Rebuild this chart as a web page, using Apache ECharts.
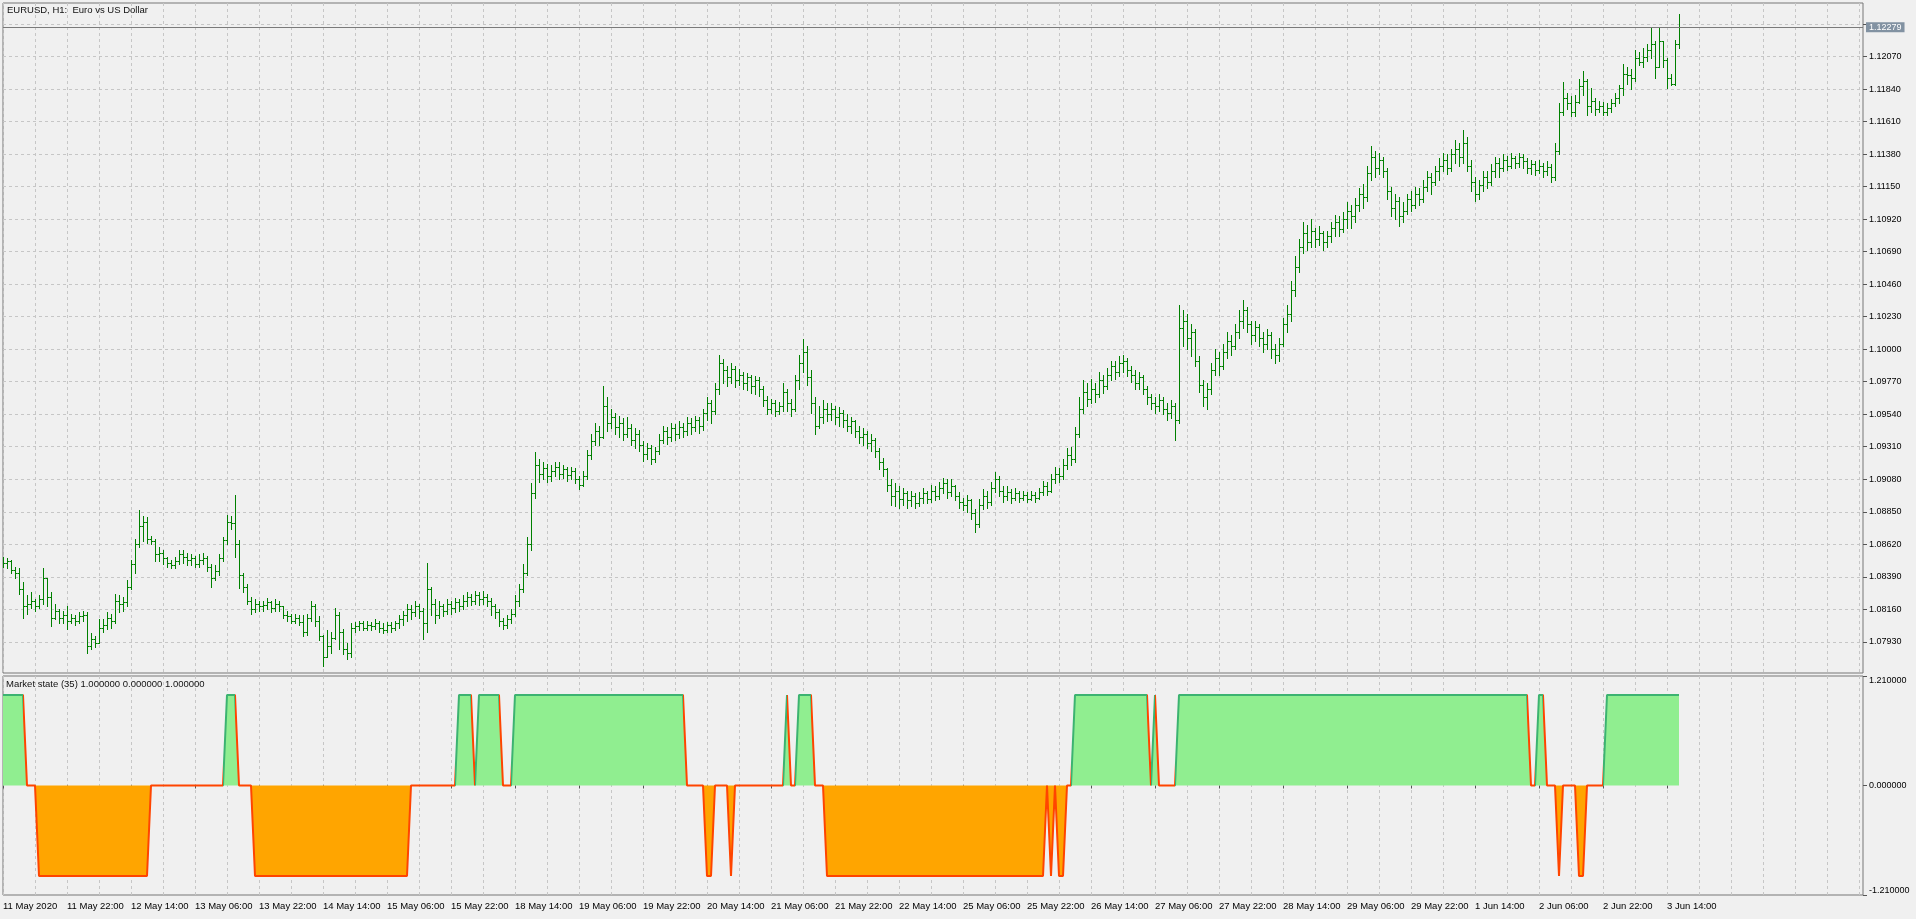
<!DOCTYPE html>
<html><head><meta charset="utf-8">
<script src="https://cdn.jsdelivr.net/npm/echarts@6/dist/echarts.min.js"></script>
<style>html,body{margin:0;padding:0;background:#F0F0F0;}#chart{width:1916px;height:919px;}</style>
</head><body><div id="chart"></div>
<script>
// ---------- DATA ----------
const firstOpen = 1.0851;
const closes = [
1.0849,1.0850,1.0844,1.0842,1.0830,1.0818,1.0820,1.0822,1.0818,1.0823,
1.0838,1.0825,1.0810,1.0815,1.0810,1.0812,1.0808,1.0810,1.0808,1.0811,
1.0812,1.0790,1.0795,1.0792,1.0803,1.0805,1.0810,1.0808,1.0822,1.0820,
1.0821,1.0832,1.0848,1.0862,1.0875,1.0878,1.0866,1.0864,1.0855,1.0856,
1.0852,1.0849,1.0847,1.0850,1.0855,1.0853,1.0851,1.0852,1.0848,1.0851,
1.0852,1.0846,1.0838,1.0843,1.0852,1.0865,1.0878,1.0877,1.0862,1.0840,
1.0832,1.0822,1.0816,1.0820,1.0818,1.0819,1.0821,1.0817,1.0820,1.0818,
1.0812,1.0811,1.0808,1.0810,1.0807,1.0800,1.0810,1.0818,1.0808,1.0797,
1.0782,1.0790,1.0796,1.0812,1.0800,1.0788,1.0785,1.0803,1.0804,1.0806,
1.0803,1.0805,1.0804,1.0806,1.0803,1.0801,1.0805,1.0803,1.0806,1.0809,
1.0812,1.0816,1.0814,1.0818,1.0815,1.0806,1.0830,1.0820,1.0812,1.0818,
1.0815,1.0820,1.0817,1.0821,1.0818,1.0822,1.0825,1.0822,1.0826,1.0823,
1.0825,1.0822,1.0818,1.0814,1.0808,1.0805,1.0809,1.0813,1.0822,1.0830,
1.0842,1.0862,1.0898,1.0918,1.0912,1.0916,1.0910,1.0914,1.0917,1.0912,
1.0915,1.0911,1.0914,1.0908,1.0904,1.0910,1.0925,1.0935,1.0942,1.0938,
1.0960,1.0948,1.0952,1.0945,1.0948,1.0940,1.0944,1.0936,1.0940,1.0932,
1.0926,1.0930,1.0922,1.0928,1.0936,1.0942,1.0938,1.0944,1.0940,1.0945,
1.0942,1.0948,1.0945,1.0950,1.0946,1.0955,1.0962,1.0956,1.0972,1.0990,
1.0985,1.0980,1.0986,1.0978,1.0982,1.0976,1.0980,1.0974,1.0978,1.0972,
1.0964,1.0958,1.0962,1.0956,1.0960,1.0970,1.0962,1.0958,1.0978,1.0990,
1.0998,1.0980,1.0962,1.0946,1.0952,1.0958,1.0954,1.0958,1.0952,1.0955,
1.0950,1.0946,1.0949,1.0942,1.0938,1.0940,1.0934,1.0936,1.0928,1.0920,
1.0915,1.0904,1.0896,1.0900,1.0894,1.0898,1.0893,1.0896,1.0891,1.0895,
1.0898,1.0894,1.0900,1.0896,1.0902,1.0905,1.0899,1.0903,1.0896,1.0892,
1.0890,1.0893,1.0884,1.0876,1.0890,1.0896,1.0892,1.0902,1.0908,1.0900,
1.0896,1.0899,1.0895,1.0898,1.0895,1.0897,1.0894,1.0897,1.0895,1.0899,
1.0903,1.0900,1.0908,1.0912,1.0910,1.0918,1.0925,1.0922,1.0940,1.0958,
1.0970,1.0965,1.0972,1.0968,1.0978,1.0974,1.0982,1.0988,1.0984,1.0990,
1.0992,1.0985,1.0982,1.0976,1.0980,1.0972,1.0966,1.0962,1.0960,1.0964,
1.0958,1.0955,1.0960,1.0950,1.1015,1.1020,1.1008,1.1012,1.0992,1.0975,
1.0966,1.0972,1.0985,1.0994,1.0988,1.0998,1.1006,1.1002,1.1012,1.1020,
1.1028,1.1018,1.1010,1.1016,1.1008,1.1004,1.1010,1.1000,1.0996,1.1004,
1.1018,1.1025,1.1042,1.1058,1.1072,1.1082,1.1076,1.1084,1.1078,1.1082,
1.1076,1.1080,1.1086,1.1090,1.1085,1.1092,1.1098,1.1094,1.1102,1.1110,
1.1108,1.1125,1.1136,1.1128,1.1134,1.1126,1.1112,1.1100,1.1105,1.1094,
1.1098,1.1106,1.1102,1.1110,1.1106,1.1115,1.1122,1.1118,1.1126,1.1130,
1.1134,1.1128,1.1138,1.1142,1.1136,1.1146,1.1130,1.1118,1.1110,1.1116,
1.1122,1.1118,1.1126,1.1132,1.1128,1.1134,1.1130,1.1135,1.1132,1.1136,
1.1133,1.1128,1.1131,1.1127,1.1130,1.1126,1.1129,1.1122,1.1140,1.1168,
1.1178,1.1174,1.1168,1.1175,1.1186,1.1190,1.1172,1.1176,1.1170,1.1172,
1.1168,1.1171,1.1174,1.1178,1.1185,1.1195,1.1194,1.1192,1.1206,1.1203,
1.1207,1.1212,1.1216,1.1200,1.1218,1.1205,1.1192,1.1188,1.1216,1.12279];
const highs = [
1.0853,1.0852,1.0851,1.0846,1.0845,1.0835,1.0826,1.0828,1.0823,1.0826,
1.0845,1.0838,1.0828,1.0820,1.0816,1.0815,1.0818,1.0813,1.0812,1.0814,
1.0815,1.0814,1.0799,1.0797,1.0809,1.0809,1.0814,1.0813,1.0827,1.0826,
1.0825,1.0837,1.0851,1.0866,1.0886,1.0882,1.0881,1.0868,1.0866,1.0860,
1.0858,1.0853,1.0851,1.0853,1.0858,1.0858,1.0856,1.0855,1.0854,1.0855,
1.0856,1.0854,1.0848,1.0847,1.0855,1.0867,1.0883,1.0882,1.0897,1.0865,
1.0842,1.0834,1.0825,1.0823,1.0822,1.0822,1.0824,1.0822,1.0823,1.0822,
1.0818,1.0815,1.0813,1.0813,1.0812,1.0812,1.0813,1.0822,1.0820,1.0811,
1.0798,1.0801,1.0800,1.0817,1.0814,1.0802,1.0792,1.0806,1.0807,1.0808,
1.0808,1.0808,1.0807,1.0809,1.0808,1.0806,1.0807,1.0807,1.0808,1.0812,
1.0815,1.0820,1.0819,1.0822,1.0820,1.0817,1.0849,1.0832,1.0823,1.0822,
1.0820,1.0823,1.0822,1.0824,1.0823,1.0826,1.0828,1.0827,1.0829,1.0828,
1.0829,1.0827,1.0824,1.0820,1.0816,1.0810,1.0812,1.0816,1.0826,1.0834,
1.0848,1.0867,1.0905,1.0927,1.0922,1.0920,1.0919,1.0918,1.0920,1.0920,
1.0918,1.0917,1.0917,1.0916,1.0910,1.0914,1.0929,1.0940,1.0948,1.0946,
1.0974,1.0966,1.0958,1.0955,1.0953,1.0951,1.0952,1.0947,1.0944,1.0943,
1.0935,1.0934,1.0932,1.0931,1.0940,1.0946,1.0945,1.0948,1.0947,1.0949,
1.0948,1.0952,1.0951,1.0953,1.0952,1.0958,1.0966,1.0964,1.0976,1.0996,
1.0993,1.0988,1.0990,1.0988,1.0986,1.0984,1.0983,1.0982,1.0981,1.0980,
1.0974,1.0967,1.0965,1.0964,1.0963,1.0976,1.0972,1.0965,1.0982,1.0996,
1.1007,1.1002,1.0985,1.0966,1.0960,1.0964,1.0962,1.0962,1.0960,1.0959,
1.0957,1.0954,1.0952,1.0950,1.0946,1.0944,1.0942,1.0940,1.0937,1.0930,
1.0923,1.0916,1.0908,1.0905,1.0903,1.0902,1.0900,1.0900,1.0898,1.0899,
1.0902,1.0900,1.0904,1.0903,1.0906,1.0909,1.0908,1.0908,1.0904,1.0899,
1.0895,1.0897,1.0894,1.0887,1.0894,1.0901,1.0900,1.0906,1.0913,1.0910,
1.0903,1.0903,1.0901,1.0902,1.0900,1.0900,1.0899,1.0900,1.0899,1.0902,
1.0907,1.0906,1.0912,1.0917,1.0916,1.0922,1.0930,1.0931,1.0945,1.0966,
1.0978,1.0976,1.0979,1.0976,1.0984,1.0982,1.0987,1.0992,1.0992,1.0995,
1.0996,1.0994,1.0988,1.0985,1.0984,1.0982,1.0974,1.0968,1.0966,1.0968,
1.0966,1.0962,1.0964,1.0962,1.1031,1.1028,1.1025,1.1018,1.1014,1.0995,
1.0978,1.0976,1.0990,1.1000,1.0998,1.1004,1.1012,1.1010,1.1018,1.1028,
1.1035,1.1030,1.1020,1.1020,1.1018,1.1012,1.1014,1.1012,1.1004,1.1008,
1.1022,1.1031,1.1048,1.1066,1.1078,1.1090,1.1088,1.1092,1.1086,1.1087,
1.1084,1.1084,1.1090,1.1095,1.1094,1.1097,1.1104,1.1102,1.1107,1.1114,
1.1117,1.1130,1.1144,1.1140,1.1139,1.1136,1.1128,1.1115,1.1110,1.1108,
1.1104,1.1110,1.1112,1.1115,1.1114,1.1120,1.1126,1.1125,1.1130,1.1135,
1.1139,1.1138,1.1142,1.1148,1.1146,1.1155,1.1150,1.1134,1.1122,1.1120,
1.1126,1.1126,1.1131,1.1136,1.1135,1.1138,1.1137,1.1139,1.1137,1.1139,
1.1138,1.1135,1.1134,1.1133,1.1134,1.1132,1.1133,1.1131,1.1146,1.1174,
1.1189,1.1181,1.1179,1.1180,1.1191,1.1197,1.1191,1.1185,1.1178,1.1176,
1.1175,1.1174,1.1177,1.1181,1.1187,1.1202,1.1200,1.1198,1.1212,1.1210,
1.1213,1.1216,1.1228,1.1218,1.1227,1.1218,1.1206,1.1195,1.1219,1.1237];
const lows = [
1.0846,1.0845,1.0842,1.0838,1.0827,1.0810,1.0813,1.0817,1.0815,1.0817,
1.0820,1.0818,1.0804,1.0809,1.0806,1.0806,1.0802,1.0806,1.0805,1.0806,
1.0808,1.0785,1.0788,1.0789,1.0792,1.0800,1.0802,1.0803,1.0806,1.0814,
1.0815,1.0818,1.0830,1.0842,1.0860,1.0864,1.0863,1.0862,1.0850,1.0850,
1.0848,1.0846,1.0845,1.0845,1.0848,1.0849,1.0847,1.0847,1.0846,1.0846,
1.0848,1.0843,1.0832,1.0837,1.0840,1.0850,1.0862,1.0873,1.0853,1.0831,
1.0828,1.0820,1.0813,1.0814,1.0815,1.0815,1.0816,1.0814,1.0815,1.0815,
1.0810,1.0808,1.0806,1.0806,1.0805,1.0797,1.0798,1.0808,1.0804,1.0794,
1.0776,1.0783,1.0785,1.0795,1.0788,1.0784,1.0781,1.0782,1.0800,1.0801,
1.0801,1.0801,1.0801,1.0802,1.0800,1.0799,1.0800,1.0800,1.0801,1.0803,
1.0805,1.0808,1.0809,1.0811,1.0810,1.0795,1.0800,1.0812,1.0806,1.0810,
1.0811,1.0813,1.0813,1.0814,1.0815,1.0816,1.0818,1.0819,1.0820,1.0819,
1.0820,1.0818,1.0812,1.0810,1.0804,1.0802,1.0803,1.0806,1.0811,1.0818,
1.0828,1.0840,1.0858,1.0895,1.0906,1.0908,1.0906,1.0907,1.0910,1.0908,
1.0909,1.0907,1.0908,1.0905,1.0901,1.0903,1.0908,1.0922,1.0932,1.0932,
1.0937,1.0942,1.0944,1.0940,1.0938,1.0936,1.0938,1.0932,1.0930,1.0928,
1.0921,1.0922,1.0919,1.0920,1.0926,1.0934,1.0933,1.0935,1.0936,1.0937,
1.0938,1.0939,1.0940,1.0942,1.0941,1.0943,1.0950,1.0948,1.0954,1.0968,
1.0976,1.0974,1.0976,1.0973,1.0975,1.0972,1.0971,1.0969,1.0968,1.0967,
1.0960,1.0954,1.0955,1.0953,1.0954,1.0956,1.0956,1.0953,1.0956,1.0972,
1.0984,1.0975,1.0955,1.0940,1.0944,1.0948,1.0949,1.0950,1.0947,1.0946,
1.0945,1.0942,1.0941,1.0938,1.0934,1.0932,1.0930,1.0928,1.0924,1.0915,
1.0910,1.0900,1.0890,1.0889,1.0888,1.0890,1.0888,1.0889,1.0888,1.0889,
1.0891,1.0891,1.0892,1.0893,1.0894,1.0898,1.0895,1.0896,1.0893,1.0888,
1.0886,1.0885,1.0880,1.0871,1.0874,1.0887,1.0888,1.0890,1.0899,1.0896,
1.0892,1.0893,1.0891,1.0893,1.0892,1.0893,1.0892,1.0893,1.0892,1.0894,
1.0897,1.0897,1.0899,1.0905,1.0906,1.0908,1.0915,1.0918,1.0920,1.0938,
1.0955,1.0960,1.0962,1.0963,1.0966,1.0969,1.0972,1.0978,1.0979,1.0981,
1.0984,1.0981,1.0977,1.0972,1.0972,1.0968,1.0961,1.0958,1.0955,1.0956,
1.0954,1.0950,1.0951,1.0936,1.0948,1.1002,1.1000,1.0995,1.0988,1.0970,
1.0960,1.0958,1.0968,1.0982,1.0982,1.0986,1.0994,1.0996,1.1000,1.1008,
1.1015,1.1012,1.1004,1.1006,1.1002,1.0998,1.1000,1.0994,1.0990,1.0992,
1.1002,1.1012,1.1020,1.1038,1.1055,1.1068,1.1070,1.1072,1.1072,1.1074,
1.1070,1.1072,1.1076,1.1080,1.1080,1.1083,1.1086,1.1086,1.1090,1.1098,
1.1100,1.1105,1.1120,1.1122,1.1124,1.1122,1.1106,1.1094,1.1092,1.1087,
1.1090,1.1096,1.1098,1.1100,1.1102,1.1104,1.1112,1.1110,1.1116,1.1120,
1.1126,1.1124,1.1126,1.1132,1.1130,1.1132,1.1126,1.1112,1.1105,1.1106,
1.1112,1.1114,1.1116,1.1122,1.1122,1.1126,1.1127,1.1128,1.1128,1.1129,
1.1128,1.1125,1.1124,1.1123,1.1125,1.1122,1.1123,1.1118,1.1120,1.1138,
1.1166,1.1170,1.1165,1.1165,1.1174,1.1180,1.1166,1.1168,1.1166,1.1168,
1.1166,1.1166,1.1168,1.1172,1.1174,1.1180,1.1188,1.1184,1.1190,1.1201,
1.1200,1.1204,1.1206,1.1192,1.1206,1.1200,1.1185,1.1187,1.1187,1.1213];
const marketState = [
1,1,1,1,1,1,0,0,0,-1,-1,-1,-1,-1,-1,-1,-1,-1,-1,-1,
-1,-1,-1,-1,-1,-1,-1,-1,-1,-1,-1,-1,-1,-1,-1,-1,-1,0,0,0,
0,0,0,0,0,0,0,0,0,0,0,0,0,0,0,0,1,1,1,0,
0,0,0,-1,-1,-1,-1,-1,-1,-1,-1,-1,-1,-1,-1,-1,-1,-1,-1,-1,
-1,-1,-1,-1,-1,-1,-1,-1,-1,-1,-1,-1,-1,-1,-1,-1,-1,-1,-1,-1,
-1,-1,0,0,0,0,0,0,0,0,0,0,0,0,1,1,1,1,0,1,
1,1,1,1,1,0,0,0,1,1,1,1,1,1,1,1,1,1,1,1,
1,1,1,1,1,1,1,1,1,1,1,1,1,1,1,1,1,1,1,1,
1,1,1,1,1,1,1,1,1,1,1,0,0,0,0,0,-1,-1,0,0,
0,0,-1,0,0,0,0,0,0,0,0,0,0,0,0,0,1,0,0,1,
1,1,1,0,0,0,-1,-1,-1,-1,-1,-1,-1,-1,-1,-1,-1,-1,-1,-1,
-1,-1,-1,-1,-1,-1,-1,-1,-1,-1,-1,-1,-1,-1,-1,-1,-1,-1,-1,-1,
-1,-1,-1,-1,-1,-1,-1,-1,-1,-1,-1,-1,-1,-1,-1,-1,-1,-1,-1,-1,
-1,0,-1,0,-1,-1,0,0,1,1,1,1,1,1,1,1,1,1,1,1,
1,1,1,1,1,1,1,0,1,0,0,0,0,0,1,1,1,1,1,1,
1,1,1,1,1,1,1,1,1,1,1,1,1,1,1,1,1,1,1,1,
1,1,1,1,1,1,1,1,1,1,1,1,1,1,1,1,1,1,1,1,
1,1,1,1,1,1,1,1,1,1,1,1,1,1,1,1,1,1,1,1,
1,1,1,1,1,1,1,1,1,1,1,1,1,1,1,1,1,1,1,1,
1,1,0,0,1,1,0,0,0,-1,0,0,0,0,-1,-1,0,0,0,0,
0,1,1,1,1,1,1,1,1,1,1,1,1,1,1,1,1,1,1,1];
const priceLabels = [1.07930,1.08160,1.08390,1.08620,1.08850,1.09080,1.09310,1.09540,1.09770,1.10000,
  1.10230,1.10460,1.10690,1.10920,1.11150,1.11380,1.11610,1.11840,1.12070];
const priceGrid = priceLabels.concat([1.12300]);
const currentPrice = 1.12279;
const timeLabels = ['11 May 2020','11 May 22:00','12 May 14:00','13 May 06:00','13 May 22:00','14 May 14:00',
  '15 May 06:00','15 May 22:00','18 May 14:00','19 May 06:00','19 May 22:00','20 May 14:00','21 May 06:00',
  '21 May 22:00','22 May 14:00','25 May 06:00','25 May 22:00','26 May 14:00','27 May 06:00','27 May 22:00',
  '28 May 14:00','29 May 06:00','29 May 22:00','1 Jun 14:00','2 Jun 06:00','2 Jun 22:00','3 Jun 14:00'];

// ---------- CHART ----------
const FONT = "'Liberation Sans', Arial, sans-serif";
const BAR_COLOR = '#008000';
const GRID_LINE = {color: '#C6C6C6', type: [3, 3], width: 1};
const nSlots = 466;                 // bar slots incl. empty right margin
const LABEL_STEP = 16, GRID_STEP = 8;
const nBars = closes.length;
const categories = [];
for (let i = 0; i < nSlots; i++) categories.push(i);

const ohlc = closes.map((c, i) => [i, i ? closes[i - 1] : firstOpen, c, lows[i], highs[i]]);
const statePos = marketState.map(v => v > 0 ? v : 0);
const stateNeg = marketState.map(v => v < 0 ? v : 0);

const UP = '#3CB371', DN = '#FF4500';
const pieces = [];
let runStart = 0, runCol = null;
for (let i = 0; i < marketState.length - 1; i++) {
  const a = marketState[i], b = marketState[i + 1];
  const col = (b > 0 && b >= a) ? UP : DN;
  if (col !== runCol) {
    if (runCol !== null) pieces.push({gte: runStart, lt: i, color: runCol});
    runStart = i; runCol = col;
  }
}
pieces.push({gte: runStart, lte: nSlots, color: runCol});

function renderBar(params, api) {
  const i = api.value(0), o = api.value(1), c = api.value(2), lo = api.value(3), hi = api.value(4);
  const top = api.coord([i, Math.max(hi, o, c)]);
  const bot = api.coord([i, Math.min(lo, o, c)]);
  const po = api.coord([i, o]), pc = api.coord([i, c]);
  const x = Math.round(top[0]) + 0.5;
  const st = {stroke: BAR_COLOR, lineWidth: 1};
  const yo = Math.round(po[1]) + 0.5, yc = Math.round(pc[1]) + 0.5;
  return {type: 'group', children: [
    {type: 'line', shape: {x1: x, y1: Math.round(top[1]), x2: x, y2: Math.round(bot[1]) + 1}, style: st},
    {type: 'line', shape: {x1: x - 2, y1: yo, x2: x, y2: yo}, style: st},
    {type: 'line', shape: {x1: x, y1: yc, x2: x + 2, y2: yc}, style: st}
  ]};
}

const labelStyle = {color: '#000', fontSize: 9.5, fontFamily: FONT};
const chart = echarts.init(document.getElementById('chart'), null, {renderer: 'canvas'});
chart.setOption({
  animation: false,
  backgroundColor: '#F0F0F0',
  textStyle: {fontFamily: FONT},
  title: [
    {text: 'EURUSD, H1:  Euro vs US Dollar', left: 7, top: 5, padding: 0,
      textStyle: {fontSize: 9.5, fontWeight: 'normal', color: '#111', fontFamily: FONT}},
    {text: 'Market state (35) 1.000000 0.000000 1.000000', left: 6, top: 679, padding: 0,
      textStyle: {fontSize: 9.5, fontWeight: 'normal', color: '#111', fontFamily: FONT}}
  ],
  grid: [
    {left: 3, right: 53, top: 3, height: 670, show: true, borderColor: '#777', borderWidth: 1, backgroundColor: 'transparent'},
    {left: 3, right: 53, top: 676, height: 219, show: true, borderColor: '#777', borderWidth: 1, backgroundColor: 'transparent'}
  ],
  xAxis: [
    {type: 'category', gridIndex: 0, data: categories, boundaryGap: false,
      axisLine: {show: false}, axisTick: {show: false}, axisLabel: {show: false},
      splitLine: {show: true, interval: (idx) => idx % GRID_STEP === 0, lineStyle: GRID_LINE}},
    {type: 'category', gridIndex: 1, data: categories, boundaryGap: false,
      axisLine: {show: false},
      axisTick: {show: true, length: 3, interval: (idx) => idx % LABEL_STEP === 0 && idx < nBars, lineStyle: {color: '#555'}},
      axisLabel: Object.assign({show: true, margin: 6, align: 'left',
        interval: (idx) => idx % LABEL_STEP === 0 && idx < nBars,
        formatter: (v, idx) => timeLabels[idx / LABEL_STEP] || ''}, labelStyle),
      splitLine: {show: true, interval: (idx) => idx % GRID_STEP === 0, lineStyle: GRID_LINE}}
  ],
  yAxis: [
    {type: 'value', gridIndex: 0, position: 'right', min: 1.07709, max: 1.12450, scale: true,
      axisLine: {show: false},
      axisTick: {show: true, length: 4, customValues: priceGrid, lineStyle: {color: '#555'}},
      axisLabel: Object.assign({show: true, margin: 6, customValues: priceLabels,
        formatter: (v) => Number(v).toFixed(5)}, labelStyle, {fontSize: 9}),
      splitLine: {show: true, lineStyle: GRID_LINE}},
    {type: 'value', gridIndex: 1, position: 'right', min: -1.21, max: 1.21, interval: 1.21,
      axisLine: {show: false},
      axisTick: {show: true, length: 4, lineStyle: {color: '#555'}},
      axisLabel: Object.assign({show: true, margin: 6, verticalAlignMaxLabel: 'top', verticalAlignMinLabel: 'bottom',
        formatter: (v) => (Math.abs(v) < 1e-9 ? 0 : v).toFixed(6)}, labelStyle, {fontSize: 9}),
      splitLine: {show: false}}
  ],
  visualMap: [{type: 'piecewise', show: false, dimension: 0, seriesIndex: 4, pieces: pieces}],
  series: [
    {type: 'custom', name: 'EURUSD', xAxisIndex: 0, yAxisIndex: 0, coordinateSystem: 'cartesian2d',
      renderItem: renderBar, encode: {x: 0, y: [1, 2, 3, 4]}, data: ohlc, clip: true, silent: true},
    {type: 'line', name: 'bid', xAxisIndex: 0, yAxisIndex: 0, data: closes, showSymbol: false, silent: true,
      lineStyle: {opacity: 0, width: 0}, z: 1,
      markLine: {silent: true, symbol: ['none', 'none'], animation: false, precision: 5,
        lineStyle: {color: '#7a7a7a', type: 'solid', width: 1},
        label: {show: true, position: 'end', distance: 3, formatter: currentPrice.toFixed(5),
          color: '#fff', backgroundColor: '#8292a2', padding: [1, 3, 0, 3], fontSize: 9, fontFamily: FONT},
        data: [{yAxis: currentPrice}]}},
    {type: 'line', xAxisIndex: 1, yAxisIndex: 1, data: statePos, showSymbol: false, silent: true,
      lineStyle: {width: 0}, areaStyle: {color: '#90EE90', opacity: 1}},
    {type: 'line', xAxisIndex: 1, yAxisIndex: 1, data: stateNeg, showSymbol: false, silent: true,
      lineStyle: {width: 0}, areaStyle: {color: '#FFA500', opacity: 1}},
    {type: 'line', xAxisIndex: 1, yAxisIndex: 1, data: marketState, showSymbol: false, silent: true,
      lineStyle: {width: 2}, z: 5}
  ]
});
</script></body></html>
